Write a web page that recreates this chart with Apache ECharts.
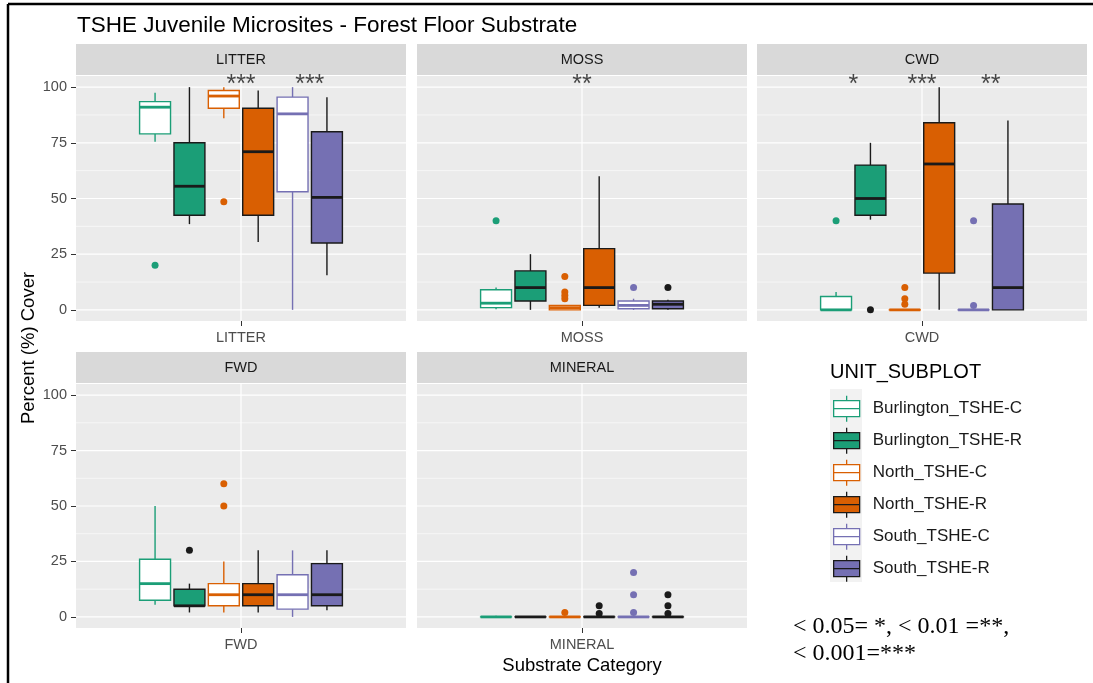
<!DOCTYPE html>
<html>
<head>
<meta charset="utf-8">
<title>TSHE Juvenile Microsites - Forest Floor Substrate</title>
<script src="https://cdn.jsdelivr.net/npm/echarts@6/dist/echarts.min.js"></script>
<style>
  html, body { margin: 0; background: #fff; }
  #chart { width: 1093px; height: 683px; }
</style>
</head>
<body>
<div id="chart"></div>
<script>
const FONT = '"Liberation Sans", Arial, sans-serif';
const SERIF = '"Liberation Serif", "Times New Roman", serif';

const panelNames = ['LITTER', 'MOSS', 'CWD', 'FWD', 'MINERAL'];
const groupNames = ['Burlington_TSHE-C', 'Burlington_TSHE-R', 'North_TSHE-C', 'North_TSHE-R', 'South_TSHE-C', 'South_TSHE-R'];
const groupColors = ['#1B9E77', '#1B9E77', '#D95F02', '#D95F02', '#7570B3', '#7570B3'];
const yTicks = [0, 25, 50, 75, 100];
const yMinor = [12.5, 37.5, 62.5, 87.5];

// [min, Q1, median, Q3, max] per group
const litterStats = [
  [75.5, 79, 91, 93.5, 97.5],
  [38.5, 42.5, 55.5, 75, 100],
  [86, 90.5, 96, 98.5, 100],
  [30.5, 42.5, 71, 90.5, 98.5],
  [0, 53, 88, 95.5, 100],
  [15.5, 30, 50.5, 80, 95.5]
];
const litterOutliers = [[20], [], [48.5], [], [], []];

const mossStats = [
  [0.3, 1, 3, 9, 10],
  [0, 4, 10, 17.5, 25],
  [0, 0, 1, 2, 2],
  [1, 2, 10, 27.5, 60],
  [0, 0.5, 2, 4, 5],
  [0, 0.5, 2.5, 4, 4.5]
];
const mossOutliers = [[40], [], [15, 8, 6.5, 5], [], [10], [10]];

const cwdStats = [
  [0, 0, 0, 6, 8],
  [40.5, 42.5, 50, 65, 75],
  [0, 0, 0, 0, 0],
  [0, 16.5, 65.5, 84, 100],
  [0, 0, 0, 0, 0],
  [0, 0, 10, 47.5, 85]
];
const cwdOutliers = [[40], [0], [10, 5, 2.5], [], [40, 2], []];

const fwdStats = [
  [5.5, 7.5, 15, 26, 50],
  [2, 5, 5, 12.5, 15],
  [2, 5, 10, 15, 25],
  [2, 5, 10, 15, 30],
  [0, 3.5, 10, 19, 30],
  [3, 5, 10, 24, 30]
];
const fwdOutliers = [[], [30], [60, 50], [], [], []];

const mineralStats = [
  [0, 0, 0, 0, 0.5],
  [0, 0, 0, 0, 0],
  [0, 0, 0, 0, 0],
  [0, 0, 0, 0, 0],
  [0, 0, 0, 0, 0],
  [0, 0, 0, 0, 0]
];
const mineralOutliers = [[], [], [2], [5, 1.5], [20, 10, 2], [10, 5, 1.5]];

// significance per site pair (Burlington, North, South)
const litterStars = ['', '***', '***'];
const mossStars = ['', '**', ''];
const cwdStars = ['*', '***', '**'];
const fwdStars = ['', '', ''];
const mineralStars = ['', '', ''];
const starY = 100.8;

const panelStats = [litterStats, mossStats, cwdStats, fwdStats, mineralStats];
const panelOutliers = [litterOutliers, mossOutliers, cwdOutliers, fwdOutliers, mineralOutliers];
const panelStars = [litterStars, mossStars, cwdStars, fwdStars, mineralStars];

const gridRects = [
  { left: 76, top: 76, width: 330, height: 245 },
  { left: 417, top: 76, width: 330, height: 245 },
  { left: 757, top: 76, width: 330, height: 245 },
  { left: 76, top: 384, width: 330, height: 244 },
  { left: 417, top: 384, width: 330, height: 244 }
];
const leftColumn = [true, false, false, true, false];

// ggplot-like dodge inside one category placed at x = 1
const dodge = 0.75 / 6;
const boxW = dodge * 0.9;
const groupX = g => 1 + (g - 2.5) * dodge;
const pairX = p => 1 + (p - 1) * 2 * dodge;
const isRef = g => g % 2 === 1;
const strokeOf = g => (isRef(g) ? '#1a1a1a' : groupColors[g]);
const fillOf = g => (isRef(g) ? groupColors[g] : '#ffffff');

function makeBoxRenderer(g) {
  return function (params, api) {
    const x = api.value(0);
    const cx = api.coord([x, 0])[0];
    const xl = api.coord([x - boxW / 2, 0])[0];
    const xr = api.coord([x + boxW / 2, 0])[0];
    const y = i => api.coord([x, api.value(i)])[1];
    const yMin = y(1), yQ1 = y(2), yMed = y(3), yQ3 = y(4), yMax = y(5);
    const lw = 1.4;
    const stroke = strokeOf(g);
    return {
      type: 'group',
      children: [
        { type: 'line', shape: { x1: cx, y1: yMax, x2: cx, y2: yQ3 }, style: { stroke, lineWidth: lw } },
        { type: 'line', shape: { x1: cx, y1: yQ1, x2: cx, y2: yMin }, style: { stroke, lineWidth: lw } },
        { type: 'rect', shape: { x: xl, y: yQ3, width: xr - xl, height: Math.max(yQ1 - yQ3, 0.01) },
          style: { fill: fillOf(g), stroke, lineWidth: lw } },
        { type: 'line', shape: { x1: xl, y1: yMed, x2: xr, y2: yMed }, style: { stroke, lineWidth: 2.8 } }
      ]
    };
  };
}

function hGridRenderer(params, api) {
  const cs = params.coordSys;
  const yy = api.coord([1, api.value(0)])[1];
  return {
    type: 'line',
    shape: { x1: cs.x, y1: yy, x2: cs.x + cs.width, y2: yy },
    style: { stroke: '#ffffff', lineWidth: api.value(1) ? 1.2 : 0.6 }
  };
}

function vGridRenderer(params, api) {
  const cs = params.coordSys;
  const xx = api.coord([api.value(0), 0])[0];
  return {
    type: 'line',
    shape: { x1: xx, y1: cs.y, x2: xx, y2: cs.y + cs.height },
    style: { stroke: '#ffffff', lineWidth: 1.2 }
  };
}

const grid = gridRects.map(r => ({
  left: r.left, top: r.top, width: r.width, height: r.height,
  show: true, backgroundColor: '#EBEBEB', borderWidth: 0
}));

const xAxis = [];
const yAxis = [];
const series = [];

panelNames.forEach((name, i) => {
  xAxis.push({
    type: 'category', gridIndex: i, data: [name], position: 'bottom',
    axisLine: { show: false, onZero: false },
    axisTick: { show: true, alignWithLabel: true, length: 5, lineStyle: { color: '#333333' } },
    axisLabel: { color: '#4D4D4D', fontSize: 14.5, fontFamily: FONT, margin: 9 },
    splitLine: { show: false }
  });
  xAxis.push({ type: 'value', gridIndex: i, min: 0.4, max: 1.6, show: false });
  yAxis.push({
    type: 'value', gridIndex: i, min: -5, max: 105,
    axisLine: { show: false, onZero: false },
    axisTick: { show: leftColumn[i], customValues: yTicks, length: 5, lineStyle: { color: '#333333' } },
    axisLabel: { show: leftColumn[i], customValues: yTicks, color: '#4D4D4D', fontSize: 14.5, fontFamily: FONT, margin: 9 },
    splitLine: { show: false }
  });

  const xi = 2 * i + 1;
  series.push({
    type: 'custom', xAxisIndex: xi, yAxisIndex: i, z: 1, silent: true,
    data: yTicks.map(v => [v, 1]).concat(yMinor.map(v => [v, 0])),
    encode: { y: 0 },
    renderItem: hGridRenderer
  });
  series.push({
    type: 'custom', xAxisIndex: xi, yAxisIndex: i, z: 1, silent: true,
    data: [[1]],
    encode: { x: 0 },
    renderItem: vGridRenderer
  });

  groupNames.forEach((gName, g) => {
    series.push({
      type: 'custom', name: gName, xAxisIndex: xi, yAxisIndex: i, z: 2,
      data: [[groupX(g)].concat(panelStats[i][g])],
      encode: { x: 0, y: [1, 2, 3, 4, 5] },
      renderItem: makeBoxRenderer(g)
    });
    if (panelOutliers[i][g].length) {
      series.push({
        type: 'scatter', name: gName, xAxisIndex: xi, yAxisIndex: i, z: 3,
        symbolSize: 7,
        itemStyle: { color: strokeOf(g), opacity: 1 },
        data: panelOutliers[i][g].map(v => [groupX(g), v])
      });
    }
  });

  const starData = panelStars[i]
    .map((s, p) => ({ value: [pairX(p), starY], name: s }))
    .filter(d => d.name);
  if (starData.length) {
    series.push({
      type: 'scatter', xAxisIndex: xi, yAxisIndex: i, z: 4, silent: true,
      symbolSize: 0,
      data: starData,
      label: { show: true, position: 'inside', formatter: '{b}', fontSize: 25, color: '#1a1a1a', fontFamily: FONT }
    });
  }
});

const boxIcon = 'path://M13,0L13,5M0,5L26,5L26,21L0,21ZM0,13L26,13M13,21L13,26';

const graphic = [
  { type: 'line', shape: { x1: 8, y1: 4, x2: 1093, y2: 4 }, style: { stroke: '#000', lineWidth: 2.5 } },
  { type: 'line', shape: { x1: 8, y1: 4, x2: 8, y2: 683 }, style: { stroke: '#000', lineWidth: 2.5 } },
  { type: 'rect', shape: { x: 830, y: 389, width: 32, height: 193 }, style: { fill: '#F2F2F2' } },
  { type: 'text', style: { text: 'UNIT_SUBPLOT', x: 830, y: 372, fill: '#000', fontSize: 20, fontFamily: FONT, align: 'left', verticalAlign: 'middle' } },
  { type: 'text', x: 29, y: 348, rotation: Math.PI / 2,
    style: { text: 'Percent (%) Cover', x: 0, y: 0, fill: '#000', fontSize: 18.5, fontFamily: FONT, align: 'center', verticalAlign: 'middle' } },
  { type: 'text', style: { text: 'Substrate Category', x: 582, y: 666, fill: '#000', fontSize: 18.5, fontFamily: FONT, align: 'center', verticalAlign: 'middle' } },
  { type: 'text', style: { text: '< 0.05= *, < 0.01 =**,', x: 793, y: 627, fill: '#000', fontSize: 24, fontFamily: SERIF, align: 'left', verticalAlign: 'middle' } },
  { type: 'text', style: { text: '< 0.001=***', x: 793, y: 654, fill: '#000', fontSize: 24, fontFamily: SERIF, align: 'left', verticalAlign: 'middle' } }
];
gridRects.forEach((r, i) => {
  graphic.push({ type: 'rect', shape: { x: r.left, y: r.top - 32, width: r.width, height: 31 }, style: { fill: '#D9D9D9' } });
  graphic.push({ type: 'text', style: { text: panelNames[i], x: r.left + r.width / 2, y: r.top - 16.5, fill: '#1A1A1A', fontSize: 14.5, fontFamily: FONT, align: 'center', verticalAlign: 'middle' } });
});

const option = {
  animation: false,
  backgroundColor: '#ffffff',
  title: {
    text: 'TSHE Juvenile Microsites - Forest Floor Substrate',
    left: 77, top: 14, padding: 0,
    textStyle: { fontSize: 22.5, fontWeight: 'normal', color: '#000', fontFamily: FONT }
  },
  legend: {
    orient: 'vertical', left: 833, top: 395, padding: 0,
    itemWidth: 26, itemHeight: 26, itemGap: 4.7,
    selectedMode: false,
    textStyle: { fontSize: 17, color: '#1A1A1A', fontFamily: FONT, padding: [0, 0, 0, 8] },
    data: groupNames.map((n, g) => ({
      name: n, icon: boxIcon,
      itemStyle: { color: fillOf(g), borderColor: strokeOf(g), borderWidth: 1.3 }
    }))
  },
  grid, xAxis, yAxis, series, graphic
};

const chart = echarts.init(document.getElementById('chart'));
chart.setOption(option);
window.addEventListener('resize', () => chart.resize());
</script>
</body>
</html>
